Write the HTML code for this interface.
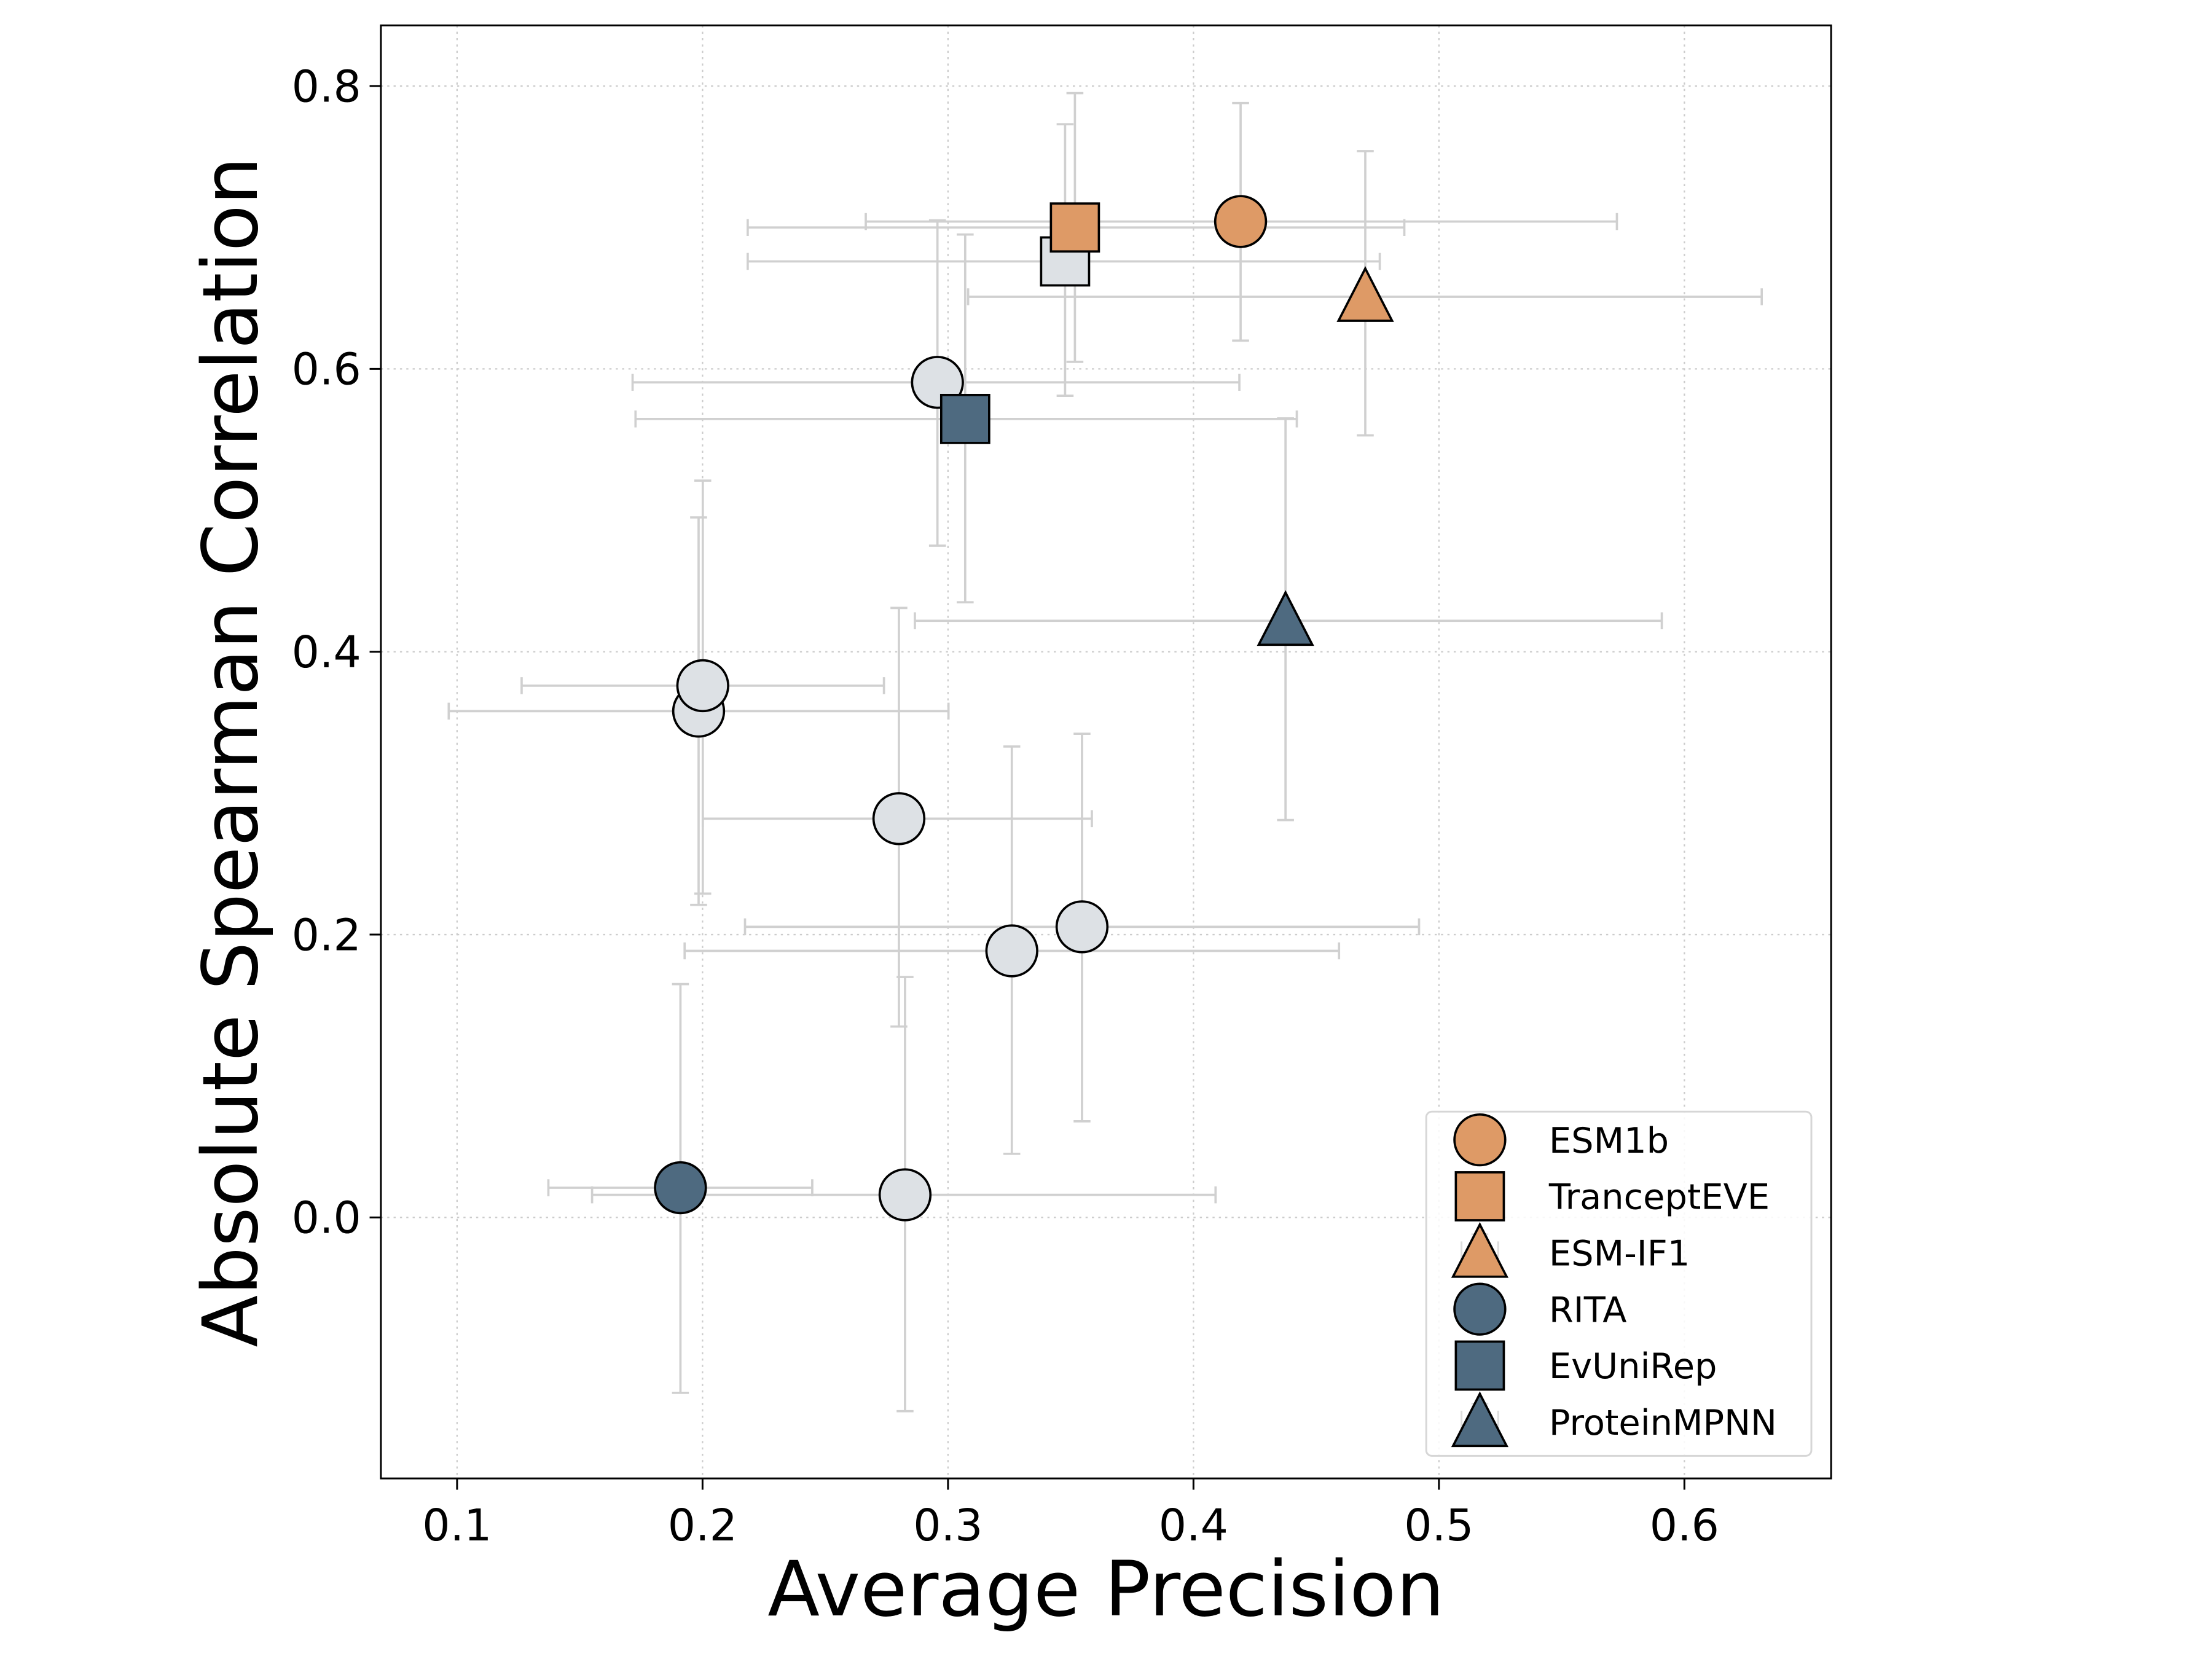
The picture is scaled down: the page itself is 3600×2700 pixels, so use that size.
<!DOCTYPE html>
<html><head><meta charset="utf-8"><style>
html,body{margin:0;padding:0;background:#fff;}
svg{display:block;font-family:"DejaVu Sans","Liberation Sans",sans-serif;}
</style></head><body>
<svg id="chart" width="3600" height="2700" viewBox="0 0 1568 1176" xmlns="http://www.w3.org/2000/svg">
<rect x="0" y="0" width="1568" height="1176" fill="#fff"/>
<g id="grid"></g>
<g id="errs"></g>
<g id="marks"></g>
<rect x="270" y="18" width="1028" height="1030" fill="none" stroke="#000" stroke-width="1.3"/>
<g id="ticks"></g>
<text x="784" y="1145" font-size="54" text-anchor="middle">Average Precision</text>
<text transform="translate(182,533) rotate(-90)" font-size="54" text-anchor="middle">Absolute Spearman Correlation</text>
<g id="legend"></g>
</svg>
<script>
const names = ["gray1","gray2","gray4","gray3","gray5","gray6","gray7","gray8","ESM1b","TranceptEVE","ESM-IF1","RITA","EvUniRep","ProteinMPNN"];
const xs   = [0.3477,0.2957,0.1984,0.2001,0.2800,0.3546,0.3260,0.2825,0.4192,0.3517,0.4700,0.1910,0.3070,0.4375];
const ys   = [0.676,0.5905,0.358,0.376,0.282,0.2055,0.1885,0.016,0.7042,0.700,0.651,0.021,0.5646,0.4219];
const xlo  = [0.2184,0.1715,0.0966,0.1263,0.2001,0.2173,0.1927,0.1550,0.2665,0.2184,0.3082,0.1372,0.1727,0.2865];
const xhi  = [0.4759,0.4187,0.3002,0.2739,0.3586,0.4919,0.4593,0.4090,0.5725,0.4859,0.6315,0.2447,0.4421,0.5908];
const ylo  = [0.581,0.475,0.221,0.229,0.135,0.068,0.045,-0.137,0.620,0.605,0.553,-0.124,0.435,0.281];
const yhi  = [0.773,0.705,0.495,0.521,0.431,0.342,0.333,0.170,0.788,0.795,0.754,0.165,0.695,0.565];
const shapes = ["s","o","o","o","o","o","o","o","o","s","^","o","s","^"];
const groups = ["g","g","g","g","g","g","g","g","or","or","or","bl","bl","bl"];
const xTicks = [0.1,0.2,0.3,0.4,0.5,0.6];
const yTicks = [0.0,0.2,0.4,0.6,0.8];
const legendNames = ["ESM1b","TranceptEVE","ESM-IF1","RITA","EvUniRep","ProteinMPNN"];
const legendShapes = ["o","s","^","o","s","^"];
const legendGroups = ["or","or","or","bl","bl","bl"];

const COL = {g:"#DDE1E5", or:"#DE9A66", bl:"#4E6A80"};
const NS = "http://www.w3.org/2000/svg";
const L=270,R=1298,T=18,B=1048;
const sx = v => 324 + (v-0.1)*1740;
const sy = v => 863 - v*1002.5;
function mk(tag, attrs, parent){const e=document.createElementNS(NS,tag);for(const k in attrs)e.setAttribute(k,attrs[k]);parent.appendChild(e);return e;}
const grid=document.getElementById('grid'), errs=document.getElementById('errs'), marks=document.getElementById('marks'), ticks=document.getElementById('ticks'), legend=document.getElementById('legend');

xTicks.forEach(t=>{
  const x=sx(t);
  const g=mk('line',{x1:x,x2:x,y1:T,y2:B,stroke:"#ccc","stroke-width":1,"stroke-dasharray":"1.5,3"},grid);
  
  
  const tk=mk('line',{x1:x,x2:x,y1:B,y2:B+8,stroke:"#000","stroke-width":1.3},ticks);
  
  
  const tl=mk('text',{x:x,y:B+44,"font-size":31,"text-anchor":"middle"},ticks);
  tl.textContent=t.toFixed(1);
  
  
});
yTicks.forEach(t=>{
  const y=sy(t);
  const g=mk('line',{x1:L,x2:R,y1:y,y2:y,stroke:"#ccc","stroke-width":1,"stroke-dasharray":"1.5,3"},grid);
  
  
  const tk=mk('line',{x1:L-8,x2:L,y1:y,y2:y,stroke:"#000","stroke-width":1.3},ticks);
  
  
  const tl=mk('text',{x:L-14,y:y+11,"font-size":31,"text-anchor":"end"},ticks);
  tl.textContent=t.toFixed(1);
  
  
});

const EC="#d0d0d0", EW=1.6, CAP=6;
for(let i=0;i<names.length;i++){
  const x=sx(xs[i]), y=sy(ys[i]);
  const x0=sx(xlo[i]), x1=sx(xhi[i]), y0=sy(ylo[i]), y1=sy(yhi[i]);
  const p=mk('path',{d:`M${x0},${y}H${x1}M${x0},${y-CAP}V${y+CAP}M${x1},${y-CAP}V${y+CAP}M${x},${y0}V${y1}M${x-CAP},${y0}H${x+CAP}M${x-CAP},${y1}H${x+CAP}`,stroke:EC,"stroke-width":EW,fill:"none"},errs);
  
  
}
function shape(s,x,y,fill,parent){
  let e;
  if(s==="o") e=mk('circle',{cx:x,cy:y,r:18},parent);
  else if(s==="s") e=mk('rect',{x:x-17,y:y-17,width:34,height:34},parent);
  else e=mk('polygon',{points:`${x},${y-20} ${x+19},${y+17} ${x-19},${y+17}`},parent);
  e.setAttribute('fill',fill);e.setAttribute('stroke','#000');e.setAttribute('stroke-width',1.6);
  return e;
}
for(let i=0;i<names.length;i++){
  const e=shape(shapes[i],sx(xs[i]),sy(ys[i]),COL[groups[i]],marks);
  
  
}
const lb=mk('rect',{x:1011,y:788,width:273,height:244,rx:4,fill:"#fff","fill-opacity":0.85,stroke:"#d6d6d6","stroke-width":1.3},legend);


legendNames.forEach((n,i)=>{
  const y=808+i*40;
  if(legendShapes[i]==="^"){
    const eb=mk('path',{d:`M1036,${y-8}V${y+12}M1062,${y-8}V${y+12}M1036,${y+2}H1062M1049,${y-13}V${y+12}M1043,${y-13}H1055`,stroke:"#ddd","stroke-width":1.3,fill:"none"},legend);
    
    
  }
  const m=shape(legendShapes[i],1049,y,COL[legendGroups[i]],legend);
  
  
  const t=mk('text',{x:1098,y:y+9,"font-size":25},legend);
  t.textContent=n;
  
  
});
</script>
</body></html>
